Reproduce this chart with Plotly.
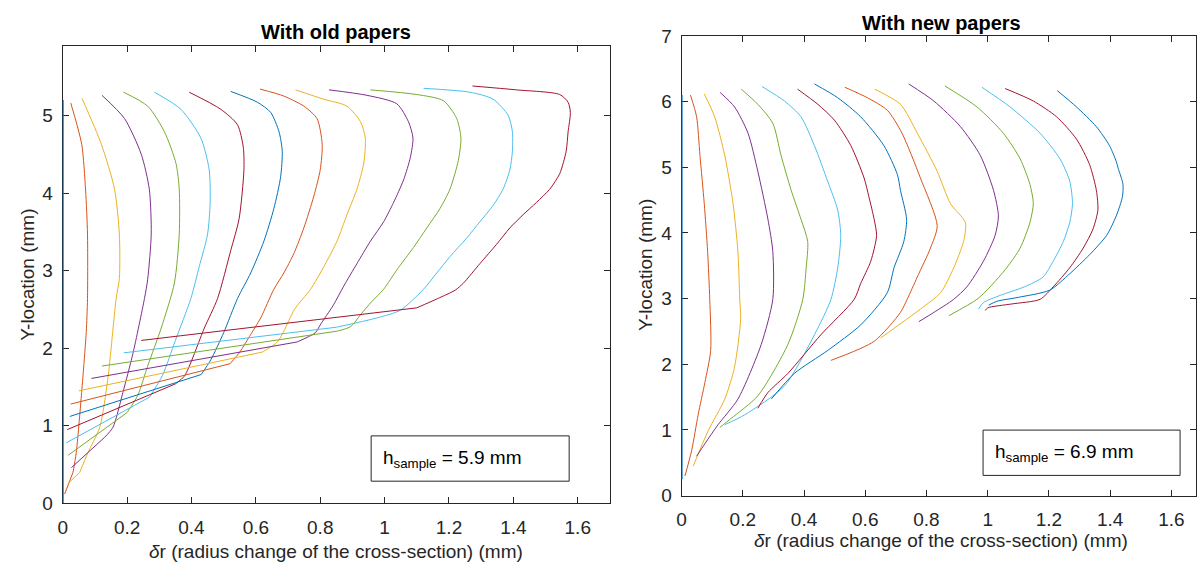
import plotly.graph_objects as go

W, H = 1197, 576
FONT = "Liberation Sans, Arial, Helvetica, sans-serif"
INK = "#262626"
COLORS = ["#0072BD", "#D95319", "#EDB120", "#7E2F8E", "#77AC30", "#4DBEEE", "#A2142F"]

# ---------------- "With old papers" profiles (dr in mm, Y in mm) ----------------
old00_dr = [0.0, 0.0]
old00_y = [0.0, 5.2]
old01_dr = [0.025, 0.059, 0.071, 0.077, 0.077, 0.073, 0.058, 0.042, 0.032, 0.006]
old01_y = [5.16, 4.63, 4.04, 3.47, 2.64, 2.20, 1.39, 0.65, 0.40, 0.12]
old02_dr = [0.060, 0.120, 0.161, 0.176, 0.176, 0.166, 0.140, 0.115, 0.078, 0.053, 0.015]
old02_y = [5.22, 4.63, 4.05, 3.47, 2.90, 2.64, 1.60, 0.98, 0.65, 0.40, 0.25]
old03_dr = [0.122, 0.192, 0.244, 0.269, 0.275, 0.264, 0.254, 0.218, 0.187, 0.156, 0.130, 0.027]
old03_y = [5.26, 4.96, 4.50, 4.05, 3.47, 2.89, 2.64, 1.93, 1.43, 0.98, 0.85, 0.46]
old04_dr = [0.189, 0.264, 0.316, 0.352, 0.362, 0.362, 0.347, 0.306, 0.264, 0.233, 0.200, 0.017]
old04_y = [5.30, 5.12, 4.79, 4.38, 4.05, 3.47, 2.84, 2.26, 1.77, 1.39, 1.17, 0.62]
old05_dr = [0.285, 0.367, 0.429, 0.455, 0.458, 0.450, 0.424, 0.398, 0.350, 0.310, 0.270, 0.011]
old05_y = [5.30, 5.08, 4.71, 4.30, 3.88, 3.47, 3.05, 2.64, 2.10, 1.65, 1.37, 0.78]
old06_dr = [0.393, 0.491, 0.543, 0.561, 0.563, 0.548, 0.522, 0.481, 0.440, 0.378, 0.350, 0.014]
old06_y = [5.30, 5.08, 4.88, 4.59, 4.30, 3.67, 3.26, 2.64, 2.26, 1.64, 1.54, 0.95]
old07_dr = [0.522, 0.605, 0.646, 0.672, 0.682, 0.677, 0.656, 0.625, 0.584, 0.543, 0.500, 0.460, 0.430, 0.022]
old07_y = [5.31, 5.17, 5.04, 4.79, 4.54, 4.21, 3.80, 3.38, 2.97, 2.64, 2.20, 1.85, 1.66, 1.12]
old08_dr = [0.613, 0.687, 0.749, 0.790, 0.806, 0.800, 0.780, 0.749, 0.718, 0.687, 0.656, 0.615, 0.580, 0.550, 0.520, 0.025]
old08_y = [5.34, 5.25, 5.12, 4.96, 4.63, 4.30, 3.96, 3.55, 3.22, 2.97, 2.76, 2.39, 2.15, 1.95, 1.80, 1.28]
old09_dr = [0.723, 0.811, 0.883, 0.925, 0.940, 0.935, 0.914, 0.883, 0.852, 0.811, 0.770, 0.720, 0.687, 0.667, 0.620, 0.050]
old09_y = [5.33, 5.21, 5.12, 4.92, 4.71, 4.38, 4.05, 3.72, 3.38, 3.05, 2.76, 2.50, 2.22, 2.08, 1.95, 1.45]
old10_dr = [0.827, 0.945, 1.038, 1.074, 1.088, 1.080, 1.059, 1.028, 0.997, 0.956, 0.914, 0.873, 0.840, 0.800, 0.785, 0.728, 0.089]
old10_y = [5.33, 5.26, 5.15, 4.92, 4.71, 4.46, 4.17, 3.88, 3.63, 3.38, 3.09, 2.80, 2.55, 2.30, 2.20, 2.08, 1.61]
old11_dr = [0.956, 1.100, 1.183, 1.224, 1.237, 1.229, 1.203, 1.172, 1.131, 1.090, 1.038, 0.997, 0.960, 0.925, 0.895, 0.853, 0.122]
old11_y = [5.33, 5.27, 5.19, 4.96, 4.71, 4.42, 4.05, 3.80, 3.55, 3.30, 3.01, 2.76, 2.60, 2.43, 2.28, 2.22, 1.77]
old12_dr = [1.121, 1.265, 1.337, 1.384, 1.397, 1.397, 1.389, 1.368, 1.337, 1.296, 1.255, 1.203, 1.162, 1.121, 1.049, 0.976, 0.850, 0.190]
old12_y = [5.35, 5.30, 5.21, 5.00, 4.79, 4.54, 4.30, 4.05, 3.84, 3.63, 3.42, 3.18, 2.97, 2.76, 2.49, 2.39, 2.27, 1.94]
old13_dr = [1.273, 1.410, 1.544, 1.570, 1.577, 1.570, 1.564, 1.544, 1.513, 1.472, 1.430, 1.389, 1.348, 1.296, 1.245, 1.220, 1.165, 1.100, 0.244]
old13_y = [5.38, 5.33, 5.27, 5.17, 5.04, 4.79, 4.54, 4.25, 4.05, 3.88, 3.72, 3.55, 3.34, 3.09, 2.84, 2.75, 2.64, 2.52, 2.10]

# ---------------- "With new papers" profiles ----------------
new00_dr = [0.0, 0.0]
new00_y = [0.25, 6.10]
new01_dr = [0.029, 0.049, 0.060, 0.074, 0.085, 0.092, 0.095, 0.076, 0.054, 0.033, 0.011]
new01_y = [6.10, 5.77, 5.18, 4.45, 3.72, 2.99, 2.21, 1.72, 1.23, 0.69, 0.30]
new02_dr = [0.074, 0.108, 0.141, 0.168, 0.184, 0.190, 0.193, 0.173, 0.141, 0.087, 0.038]
new02_y = [6.12, 5.77, 5.18, 4.45, 3.72, 2.99, 2.69, 1.96, 1.47, 0.99, 0.45]
new03_dr = [0.126, 0.173, 0.217, 0.249, 0.282, 0.298, 0.298, 0.260, 0.184, 0.119, 0.076, 0.049]
new03_y = [6.14, 5.92, 5.52, 4.94, 4.21, 3.72, 2.99, 2.30, 1.47, 1.08, 0.79, 0.60]
new04_dr = [0.195, 0.249, 0.298, 0.325, 0.358, 0.390, 0.412, 0.407, 0.396, 0.347, 0.249, 0.163, 0.125]
new04_y = [6.19, 5.96, 5.67, 5.18, 4.65, 4.21, 3.87, 3.47, 2.99, 2.30, 1.52, 1.18, 1.04]
new05_dr = [0.263, 0.336, 0.390, 0.434, 0.477, 0.510, 0.520, 0.510, 0.488, 0.434, 0.336, 0.206, 0.141]
new05_y = [6.23, 6.01, 5.77, 5.33, 4.79, 4.35, 3.96, 3.47, 2.99, 2.45, 1.67, 1.23, 1.08]
new06_dr = [0.379, 0.445, 0.499, 0.553, 0.596, 0.612, 0.629, 0.637, 0.618, 0.585, 0.564, 0.455, 0.347, 0.282, 0.249]
new06_y = [6.19, 5.96, 5.72, 5.33, 4.84, 4.55, 4.21, 3.96, 3.57, 3.23, 2.99, 2.45, 1.86, 1.57, 1.33]
new07_dr = [0.434, 0.510, 0.585, 0.661, 0.705, 0.715, 0.735, 0.726, 0.694, 0.672, 0.585, 0.477, 0.368, 0.293]
new07_y = [6.27, 6.06, 5.77, 5.33, 4.89, 4.65, 4.21, 3.87, 3.47, 3.09, 2.60, 2.21, 1.86, 1.47]
new08_dr = [0.533, 0.607, 0.672, 0.720, 0.780, 0.835, 0.813, 0.770, 0.737, 0.715, 0.629, 0.488]
new08_y = [6.22, 6.06, 5.87, 5.52, 4.84, 4.11, 3.77, 3.33, 2.99, 2.79, 2.35, 2.06]
new09_dr = [0.631, 0.715, 0.770, 0.835, 0.878, 0.927, 0.921, 0.889, 0.846, 0.780, 0.650]
new09_y = [6.19, 5.96, 5.52, 4.94, 4.45, 4.16, 3.87, 3.47, 3.09, 2.84, 2.40]
new10_dr = [0.742, 0.824, 0.911, 0.976, 1.019, 1.035, 1.024, 0.986, 0.932, 0.889, 0.824, 0.775]
new10_y = [6.27, 6.01, 5.62, 5.18, 4.65, 4.26, 3.96, 3.57, 3.18, 2.99, 2.79, 2.65]
new11_dr = [0.860, 0.965, 1.051, 1.106, 1.138, 1.149, 1.138, 1.106, 1.062, 1.008, 0.965, 0.873]
new11_y = [6.24, 5.92, 5.52, 5.13, 4.74, 4.45, 4.16, 3.77, 3.47, 3.18, 2.99, 2.74]
new12_dr = [0.981, 1.073, 1.171, 1.236, 1.268, 1.277, 1.268, 1.247, 1.214, 1.181, 1.120, 1.041, 0.986, 0.970]
new12_y = [6.22, 5.92, 5.52, 5.13, 4.79, 4.45, 4.16, 3.87, 3.57, 3.33, 3.18, 3.05, 2.94, 2.84]
new13_dr = [1.057, 1.149, 1.225, 1.290, 1.333, 1.355, 1.360, 1.344, 1.312, 1.268, 1.214, 1.171, 1.080, 1.000, 0.992]
new13_y = [6.20, 6.01, 5.77, 5.43, 5.04, 4.65, 4.35, 4.06, 3.77, 3.47, 3.18, 2.99, 2.92, 2.86, 2.82]
new14_dr = [1.227, 1.290, 1.355, 1.398, 1.420, 1.426, 1.442, 1.440, 1.420, 1.388, 1.333, 1.268, 1.203, 1.100, 1.030, 1.003]
new14_y = [6.17, 5.92, 5.62, 5.33, 5.09, 4.99, 4.74, 4.55, 4.26, 3.96, 3.67, 3.38, 3.13, 3.02, 2.96, 2.90]

OLD = [(old00_dr, old00_y), (old01_dr, old01_y), (old02_dr, old02_y), (old03_dr, old03_y),
       (old04_dr, old04_y), (old05_dr, old05_y), (old06_dr, old06_y), (old07_dr, old07_y),
       (old08_dr, old08_y), (old09_dr, old09_y), (old10_dr, old10_y), (old11_dr, old11_y),
       (old12_dr, old12_y), (old13_dr, old13_y)]
NEW = [(new00_dr, new00_y), (new01_dr, new01_y), (new02_dr, new02_y), (new03_dr, new03_y),
       (new04_dr, new04_y), (new05_dr, new05_y), (new06_dr, new06_y), (new07_dr, new07_y),
       (new08_dr, new08_y), (new09_dr, new09_y), (new10_dr, new10_y), (new11_dr, new11_y),
       (new12_dr, new12_y), (new13_dr, new13_y), (new14_dr, new14_y)]

TITLES = ["With old papers", "With new papers"]
X_LABEL = "<i>δ</i>r (radius change of the cross-section) (mm)"
Y_LABEL = "Y-location (mm)"
H_SAMPLE = [5.9, 6.9]

# ---------------- figure ----------------
def px_x(p):
    return p / W


def px_y(p):
    return 1 - p / H


fig = go.Figure()


def add_line(dr, yy, color, width, xa, ya, shape):
    fig.add_trace(go.Scatter(x=dr, y=yy, mode="lines", xaxis=xa, yaxis=ya,
                             line=dict(color=color, width=width, shape=shape, smoothing=0.7)
                             if shape == "spline" else dict(color=color, width=width),
                             showlegend=False, hoverinfo="skip"))


for i, (dr, yy) in enumerate(OLD):
    c = COLORS[i % 7]
    if i == 0:
        add_line(dr, yy, c, 2, "x", "y", "linear")
    else:
        # smooth measured profile, then the straight closing segment to the base point
        add_line(dr[:-1], yy[:-1], c, 1, "x", "y", "spline")
        add_line(dr[-2:], yy[-2:], c, 1, "x", "y", "linear")

for i, (dr, yy) in enumerate(NEW):
    c = COLORS[i % 7]
    add_line(dr, yy, c, 2 if i == 0 else 1, "x2", "y2", "linear" if i == 0 else "spline")


def ax(rng, dom, anchor, standoff):
    return dict(range=rng, domain=dom, anchor=anchor, dtick=1 if rng[1] > 3 else 0.2, tick0=0,
                ticks="inside", ticklen=6, tickwidth=1, tickcolor=INK,
                showline=True, linecolor=INK, linewidth=1, mirror="ticks",
                showgrid=False, zeroline=False, layer="below traces",
                tickfont=dict(family=FONT, size=19, color=INK),
                ticklabelstandoff=standoff, fixedrange=True)


L = dict(x0=58, x1=608, y0=37, y1=512)
R = dict(x0=680, x1=1197, y0=27, y1=504)

fig.update_layout(
    width=W, height=H, margin=dict(l=0, r=0, t=0, b=0),
    paper_bgcolor="white", plot_bgcolor="white",
    font=dict(family=FONT, color=INK),
    xaxis=ax([0, 1.7], [px_x(L["x0"]), px_x(L["x1"])], "y", 7),
    yaxis=ax([0, 5.9], [px_y(L["y1"]), px_y(L["y0"])], "x", 5),
    xaxis2=ax([0, 1.7 * (R["x1"] - R["x0"]) / (1203 - R["x0"])], [px_x(R["x0"]), 1.0], "y2", 7),
    yaxis2=ax([0, 7], [px_y(R["y1"]), px_y(R["y0"])], "x2", 5),
)


def label(text, x, y, size, color=INK, angle=0):
    return dict(text=text, x=px_x(x), y=px_y(y), xref="paper", yref="paper",
                xanchor="center", yanchor="middle", textangle=angle, showarrow=False,
                font=dict(size=size, family=FONT, color=color))


annos = [
    label("<b>%s</b>" % TITLES[0], 333, 23, 20, "black"),
    label("<b>%s</b>" % TITLES[1], 941, 14, 20, "black"),
    label(X_LABEL, 333, 562, 19),
    label(X_LABEL, 941, 551, 19),
    label(Y_LABEL, 23, 275, 19, angle=-90),
    label(Y_LABEL, 644, 265, 19, angle=-90),
]
# h_sample boxes
boxes = [(368, 567, 442, 489, H_SAMPLE[0]), (983, 1181, 436, 483, H_SAMPLE[1])]
shapes = []
for (x0, x1, y0, y1, h) in boxes:
    shapes.append(dict(type="rect", xref="paper", yref="paper", x0=px_x(x0), x1=px_x(x1),
                       y0=px_y(y1), y1=px_y(y0), line=dict(color=INK, width=1), fillcolor="white",
                       layer="above"))
    annos.append(dict(text="h<sub>sample</sub> = %.1f mm" % h, x=px_x(x0 + 10), y=px_y((y0 + y1) / 2),
                      xref="paper", yref="paper", xanchor="left", yanchor="middle", showarrow=False,
                      font=dict(size=19, family=FONT, color="black")))

fig.update_layout(annotations=annos, shapes=shapes)
fig.write_html("out.html")
